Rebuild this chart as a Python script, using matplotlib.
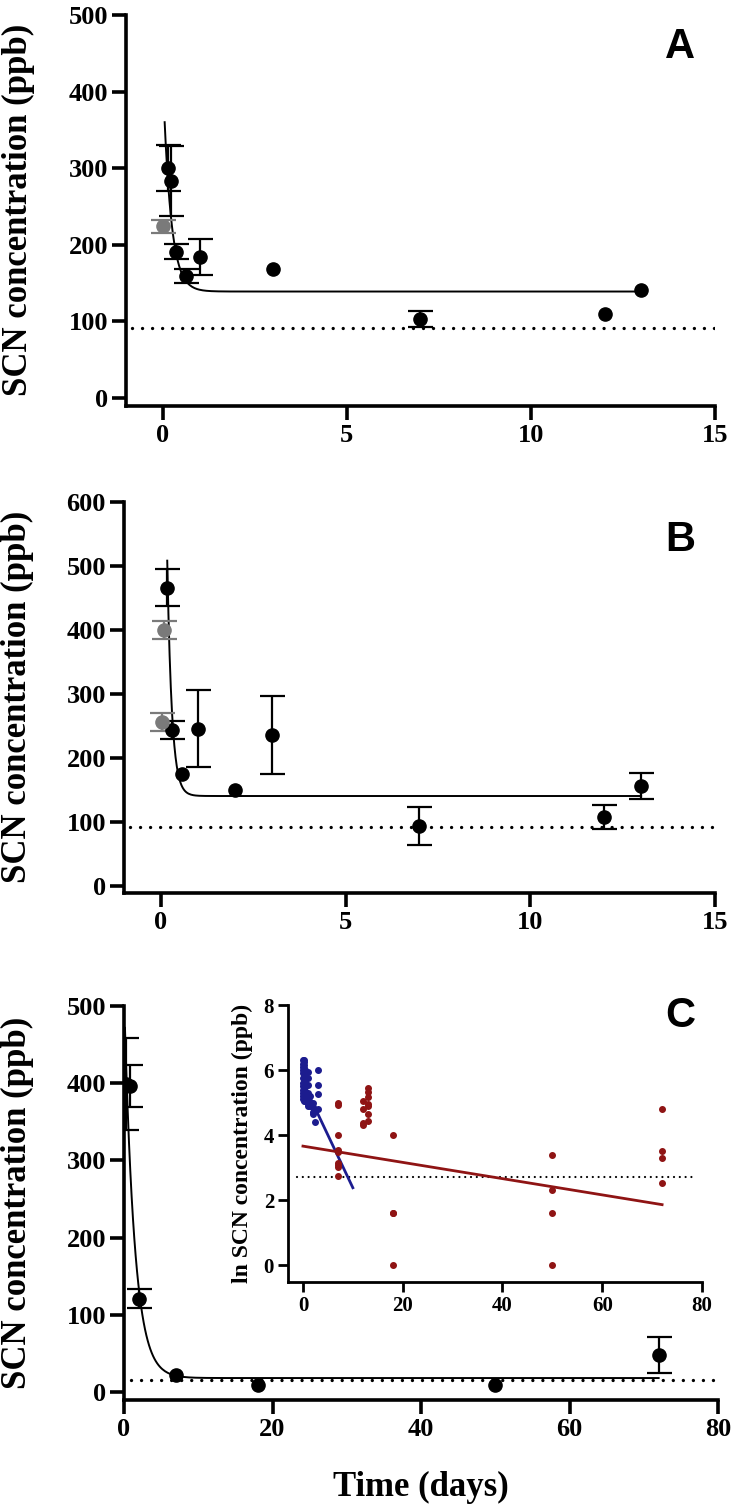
import matplotlib.pyplot as plt
import numpy as np

plt.rcParams['font.family'] = ['Liberation Serif', 'DejaVu Serif']
plt.rcParams['font.weight'] = 'bold'
plt.rcParams['axes.labelweight'] = 'bold'

# Panel A (days, ppb, +/- error; 0 = no bar drawn)
a_days = [0.13, 0.22, 0.35, 0.62, 1, 3, 7, 12, 13]
a_scn = [300, 283, 191, 159, 184, 168, 103, 110, 141]
a_err = [30, 46, 10, 9, 23, 0, 10, 0, 0]
a_gray_days = [0]
a_gray_scn = [224]
a_gray_err = [9]
a_fit = [139, 281, 4.8, 0.05, 13]   # plateau, span, k, t start, t end
a_baseline = 92

# Panel B
b_days = [0.17, 0.3, 0.58, 1, 2, 3, 7, 12, 13]
b_scn = [466, 244, 175, 246, 151, 236, 94, 108, 157]
b_err = [29, 14, 0, 60, 0, 61, 30, 19, 20]
b_gray_days = [0.08, 0.03]
b_gray_scn = [400, 257]
b_gray_err = [14, 14]
b_fit = [141, 1430, 8.0, 0.17, 13]
b_baseline = 92

# Panel C
c_days = [0.25, 0.75, 2, 7, 18, 50, 72]
c_scn = [399, 396, 121, 22, 9, 9, 48]
c_err = [60, 27, 12, 0, 0, 0, 23]
c_fit = [18, 497, 0.73, 0.125, 72]
c_baseline = 16

# inset: ln SCN
blue_days = [0]*12 + [0.25]*12 + [0.5]*7 + [1]*7 + [1.5]*3 + [2]*4 + [2.5] + [3]*4
blue_ln = [6.3, 6.2, 6.1, 6.0, 5.9, 5.75, 5.6, 5.5, 5.4, 5.3, 5.2, 5.1,
           6.3, 6.25, 6.15, 6.05, 5.95, 5.8, 5.7, 5.55, 5.45, 5.35, 5.15, 5.05,
           6.0, 5.9, 5.7, 5.6, 5.35, 5.2, 5.05,
           5.95, 5.75, 5.55, 5.3, 5.1, 4.95, 4.9,
           5.2, 5.0, 4.9,
           5.0, 4.85, 4.7, 4.65,
           4.4,
           6.0, 5.55, 5.25, 4.8]
red_days = [7]*9 + [12]*4 + [13]*7 + [18]*4 + [50]*4 + [72]*4
red_ln = [5.0, 4.93, 4.0, 3.55, 3.48, 3.15, 3.08, 3.03, 2.73,
          5.05, 4.8, 4.37, 4.3,
          5.45, 5.33, 5.17, 4.95, 4.9, 4.65, 4.42,
          4.0, 1.61, 1.6, 0.0,
          3.4, 2.3, 1.61, 0.0,
          4.8, 3.5, 3.3, 2.52]
blue_line = [5.62, -0.324, 0, 10]   # intercept, slope, x start, x end
red_line = [3.66, -0.025, 0, 72]
ln_baseline = 2.7

BLUE = '#1c1c8f'
RED = '#8f1414'


def style(ax, lw=2.6, ticklen=10, size=19):
    ax.spines['top'].set_visible(False)
    ax.spines['right'].set_visible(False)
    ax.spines['left'].set_linewidth(lw)
    ax.spines['bottom'].set_linewidth(lw)
    ax.tick_params(width=lw, length=ticklen, labelsize=size, pad=3)


def decay(ax, fit):
    t = np.linspace(fit[3], fit[4], 400)
    ax.plot(t, fit[0] + fit[1] * np.exp(-fit[2] * t), color='black', lw=1.4, zorder=2)


def points(ax, x, y, err, color):
    x, y, err = np.array(x), np.array(y), np.array(err)
    has = err > 0
    ax.errorbar(x[has], y[has], yerr=err[has], fmt='none', ecolor=color,
                capsize=9, elinewidth=1.6, capthick=1.6, zorder=3)
    ax.plot(x, y, 'o', color=color, ms=9.5, zorder=4)


def baseline(ax, x0, x1, y, lw=2.4, gap=3.0):
    ax.plot([x0, x1], [y, y], color='black', lw=lw,
            linestyle=(0, (0.01, gap)), dash_capstyle='round', zorder=1)


fig = plt.figure(figsize=(7.33, 15.12), dpi=100)

# ---- A
axA = fig.add_axes([0.1719, 0.7317, 0.8035, 0.2584])
decay(axA, a_fit)
points(axA, a_days, a_scn, a_err, 'black')
points(axA, a_gray_days, a_gray_scn, a_gray_err, '#7a7a7a')
baseline(axA, -0.85, 15, a_baseline)
axA.set_xlim(-1, 15)
axA.set_ylim(-10, 500)
axA.set_xticks([0, 5, 10, 15])
axA.set_yticks([0, 100, 200, 300, 400, 500])
style(axA)
axA.set_ylabel('SCN concentration (ppb)', fontsize=25)
axA.yaxis.set_label_coords(-0.155, 0.5)

# ---- B
axB = fig.add_axes([0.1692, 0.4095, 0.8062, 0.2587])
decay(axB, b_fit)
points(axB, b_days, b_scn, b_err, 'black')
points(axB, b_gray_days, b_gray_scn, b_gray_err, '#7a7a7a')
baseline(axB, -0.85, 15, b_baseline)
axB.set_xlim(-1, 15)
axB.set_ylim(-10, 600)
axB.set_xticks([0, 5, 10, 15])
axB.set_yticks([0, 100, 200, 300, 400, 500, 600])
style(axB)
axB.set_ylabel('SCN concentration (ppb)', fontsize=25)
axB.yaxis.set_label_coords(-0.152, 0.5)

# ---- C
axC = fig.add_axes([0.1692, 0.0743, 0.8104, 0.2604])
decay(axC, c_fit)
points(axC, c_days, c_scn, c_err, 'black')
baseline(axC, 1, 80, c_baseline)
axC.set_xlim(0, 80)
axC.set_ylim(-10, 500)
axC.set_xticks([0, 20, 40, 60, 80])
axC.set_yticks([0, 100, 200, 300, 400, 500])
style(axC)
axC.set_ylabel('SCN concentration (ppb)', fontsize=25)
axC.yaxis.set_label_coords(-0.152, 0.5)
axC.set_xlabel('Time (days)', fontsize=25, labelpad=22)

# ---- inset
axI = fig.add_axes([0.3929, 0.1521, 0.5648, 0.1832])
axI.plot(blue_days, blue_ln, 'o', color=BLUE, ms=4, zorder=3)
axI.plot(red_days, red_ln, 'o', color=RED, ms=4, zorder=3)
bx = np.array(blue_line[2:])
axI.plot(bx, blue_line[0] + blue_line[1] * bx, color=BLUE, lw=2.0, zorder=2)
rx = np.array(red_line[2:])
axI.plot(rx, red_line[0] + red_line[1] * rx, color=RED, lw=2.0, zorder=2)
baseline(axI, -1.2, 79, ln_baseline, lw=1.6, gap=2.6)
axI.set_xlim(-3, 80)
axI.set_ylim(-0.52, 8)
axI.set_xticks([0, 20, 40, 60, 80])
axI.set_yticks([0, 2, 4, 6, 8])
style(axI, lw=2.0, ticklen=7, size=15)
axI.set_ylabel('ln SCN concentration (ppb)', fontsize=17)
axI.yaxis.set_label_coords(-0.085, 0.5)

for letter, y in [('A', 0.969), ('B', 0.643), ('C', 0.328)]:
    fig.text(0.928, y, letter, fontsize=30, fontweight='bold',
             family='Liberation Sans', ha='center', va='center')

fig.savefig('out.png', dpi=100)
